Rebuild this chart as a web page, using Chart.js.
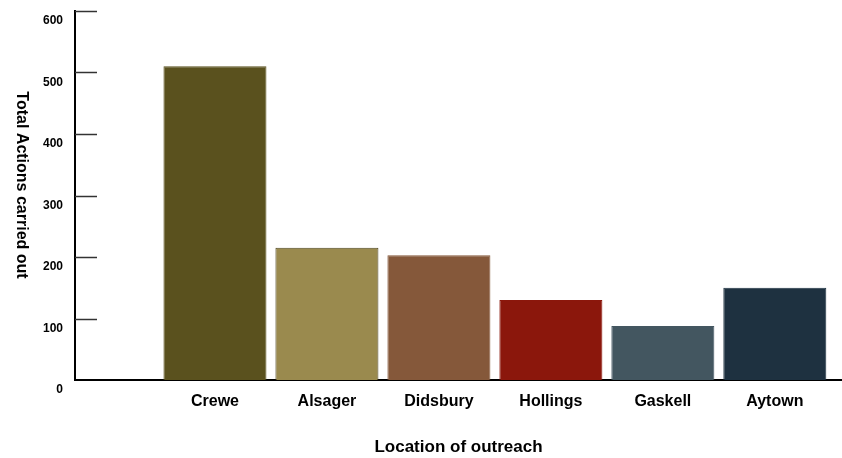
<!DOCTYPE html>
<html>
<head>
<meta charset="utf-8">
<script src="https://cdn.jsdelivr.net/npm/chart.js@4.4.0/dist/chart.umd.min.js"></script>
<style>
    html, body { margin: 0; padding: 0; background: #fff; }
    #wrap { width: 842px; height: 458px; }
</style>
</head>
<body>
<div id="wrap"><canvas id="GraphCategory"></canvas></div>
<script>
var category = ["Crewe", "Alsager", "Didsbury", "Hollings", "Gaskell", "Aytown"];
var count = [510, 215, 203, 130, 88, 150];
var barColors = ["#5a511e", "#9a8a4e", "#85583a", "#8b170c", "#435660", "#1e3140"];
var barBorders = ["#5a511e", "#4e4520", "#85583a", "#8b170c", "#435660", "#1e3140"];
var yTicks = [0, 100, 200, 300, 400, 500, 600];

var fontFamily = '"Liberation Sans", Arial, sans-serif';

// short tick marks pointing into the plot + rotated y title
var axisExtras = {
    id: 'axisExtras',
    afterDraw: function(chart) {
        var ctx = chart.ctx;
        var y = chart.scales.y;
        var left = chart.chartArea.left;
        ctx.save();
        ctx.strokeStyle = "#333";
        ctx.lineWidth = 1.5;
        yTicks.forEach(function(v) {
            if (v === 0) return;
            var py = Math.round(y.getPixelForValue(v)) + 0.5;
            ctx.beginPath();
            ctx.moveTo(left, py);
            ctx.lineTo(left + 22, py);
            ctx.stroke();
        });
        ctx.translate(21, 185);
        ctx.rotate(Math.PI / 2);
        ctx.font = "bold 16px " + fontFamily;
        ctx.fillStyle = "#000";
        ctx.textAlign = "center";
        ctx.textBaseline = "middle";
        ctx.fillText("Total Actions carried out", 0, 0);
        ctx.restore();
    }
};

var chartdata = {
    datasets: [{
        label: "Count",
        data: count.map(function(c, i) { return { x: i + 1, y: c }; }),
        backgroundColor: barColors,
        borderColor: barBorders,
        borderWidth: 1,
        borderSkipped: "bottom",
        barPercentage: 0.92,
        categoryPercentage: 1
    }]
};

var ctx = document.getElementById("GraphCategory");
var graph = new Chart(ctx, {
    type: 'bar',
    data: chartdata,
    plugins: [axisExtras],
    options: {
        animation: false,
        responsive: true,
        maintainAspectRatio: false,
        layout: { padding: { top: 11, right: 0, left: 0, bottom: 0 } },
        plugins: {
            legend: { display: false },
            tooltip: { enabled: false }
        },
        scales: {
            x: {
                type: 'linear',
                offset: false,
                min: -0.25,
                max: 6.6,
                afterBuildTicks: function(scale) {
                    scale.ticks = category.map(function(c, i) { return { value: i + 1 }; });
                },
                afterFit: function(scale) {
                    scale.height = 78;
                    scale.paddingLeft = 0;
                    scale.paddingRight = 0;
                },
                grid: { display: false, drawTicks: false, offset: false },
                border: { display: true, color: "#000", width: 2 },
                ticks: {
                    padding: 12,
                    color: "#000",
                    font: { family: fontFamily, size: 16, weight: "bold" },
                    callback: function(v) { return category[v - 1] || ""; },
                    maxRotation: 0,
                    autoSkip: false
                },
                title: {
                    display: true,
                    text: "Location of outreach",
                    color: "#000",
                    font: { family: fontFamily, size: 17, weight: "bold" },
                    padding: { top: 0, bottom: 0 }
                }
            },
            y: {
                min: 0,
                max: 600,
                afterBuildTicks: function(scale) {
                    scale.ticks = yTicks.map(function(v) { return { value: v }; });
                },
                afterFit: function(scale) {
                    scale.width = 75;
                    scale.paddingTop = 0;
                    scale.paddingBottom = 0;
                },
                grid: { display: false, drawTicks: false },
                border: { display: true, color: "#000", width: 2 },
                ticks: {
                    padding: 12,
                    labelOffset: 10,
                    color: "#000",
                    font: { family: fontFamily, size: 12, weight: "bold" }
                }
            }
        }
    }
});
</script>
</body>
</html>
